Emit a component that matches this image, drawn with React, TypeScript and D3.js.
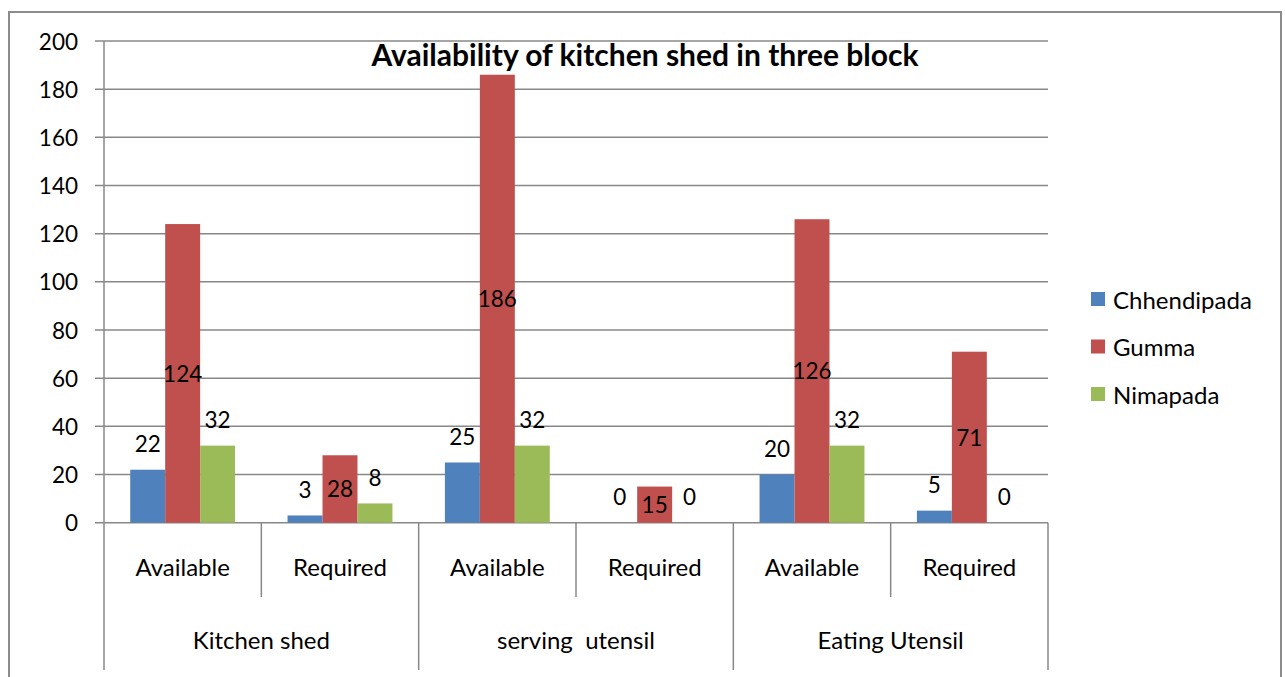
import React from 'react';
import * as d3 from 'd3';

const groups = ['Kitchen shed', 'serving  utensil', 'Eating Utensil'];
const subCategories = ['Available', 'Required'];
const seriesNames = ['Chhendipada', 'Gumma', 'Nimapada'];
const chhendipada = [22, 3, 25, 0, 20, 5];
const gumma = [124, 28, 186, 15, 126, 71];
const nimapada = [32, 8, 32, 0, 32, 0];
const yTicks = [0, 20, 40, 60, 80, 100, 120, 140, 160, 180, 200];
const colors = ['#4F81BD', '#C0504D', '#9BBB59'];

const W = 1285;
const H = 677;
const FONT = 'Lato, "Liberation Sans", sans-serif';
const NUM_SIZE = 22.5;
const WORD_SIZE = 24;

export default function App() {
  const left = 104;
  const right = 1048;
  const top = 41;
  const bottom = 522.7;

  const cats = groups.flatMap((g, gi) => subCategories.map((s, si) => `${gi}-${si}`));
  const x = d3.scaleBand().domain(cats).range([left, right]).padding(0);
  const xs = d3.scaleBand().domain(seriesNames).range([0, x.bandwidth()]).paddingInner(0).paddingOuter(0.75);
  const y = d3.scaleLinear().domain([0, 200]).range([bottom, top]);

  const seriesValues = [chhendipada, gumma, nimapada];
  const step = x.step();

  return (
    <svg width={W} height={H} style={{ position: 'absolute', left: 0, top: 0, display: 'block' }} fontFamily={FONT}>
      <rect x={0} y={0} width={W} height={H} fill="#fff" />
      <rect x={9} y={12} width={1272} height={700} fill="none" stroke="#8c8c8c" strokeWidth={2} />

      {/* gridlines + y tick labels */}
      {yTicks.map(t => (
        <g key={t}>
          <line x1={95} x2={right} y1={y(t)} y2={y(t)} stroke="#888" strokeWidth={1.5} />
          <text x={78} y={y(t)} textAnchor="end" dominantBaseline="central" fontSize={NUM_SIZE} fill="#000">{t}</text>
        </g>
      ))}

      {/* bars */}
      {seriesValues.map((vals, si) => vals.map((v, ci) => (
        <rect key={`${si}-${ci}`}
          x={x(cats[ci])! + xs(seriesNames[si])!}
          y={y(v)}
          width={xs.bandwidth()}
          height={bottom - y(v)}
          fill={colors[si]} />
      )))}

      {/* axes */}
      <line x1={left} x2={left} y1={top} y2={670} stroke="#888" strokeWidth={1.5} />
      {d3.range(1, cats.length + 1).map(k => (
        <line key={k} x1={left + k * step} x2={left + k * step} y1={bottom} y2={k % 2 === 0 ? 670 : 597} stroke="#888" strokeWidth={1.5} />
      ))}

      {/* value labels */}
      {seriesValues.map((vals, si) => vals.map((v, ci) => {
        const cx = x(cats[ci])! + xs(seriesNames[si])! + xs.bandwidth() / 2;
        const cy = si === 1 ? y(v / 2) : y(v) - 26;
        return (
          <text key={`l${si}-${ci}`} x={cx} y={cy} textAnchor="middle" dominantBaseline="central" fontSize={NUM_SIZE} fill="#000">{v}</text>
        );
      }))}

      {/* category labels */}
      {cats.map((c, ci) => (
        <text key={c} x={x(c)! + x.bandwidth() / 2} y={566} textAnchor="middle" dominantBaseline="central" fontSize={WORD_SIZE} fill="#000">
          {subCategories[ci % 2]}
        </text>
      ))}
      {groups.map((g, gi) => (
        <text key={g} x={left + step * (gi * 2 + 1)} y={639} textAnchor="middle" dominantBaseline="central" fontSize={WORD_SIZE} fill="#000" style={{ whiteSpace: 'pre' }}>
          {g}
        </text>
      ))}

      {/* title */}
      <text x={645} y={54} textAnchor="middle" dominantBaseline="central" fontSize={30} fontWeight="bold" fill="#000">
        Availability of kitchen shed in three block
      </text>

      {/* legend */}
      {seriesNames.map((s, i) => (
        <g key={s} transform={`translate(1091, ${299 + i * 47.5})`}>
          <rect x={0} y={-7} width={14} height={14} fill={colors[i]} />
          <text x={22} y={0} dominantBaseline="central" fontSize={WORD_SIZE} fill="#000">{s}</text>
        </g>
      ))}
    </svg>
  );
}
